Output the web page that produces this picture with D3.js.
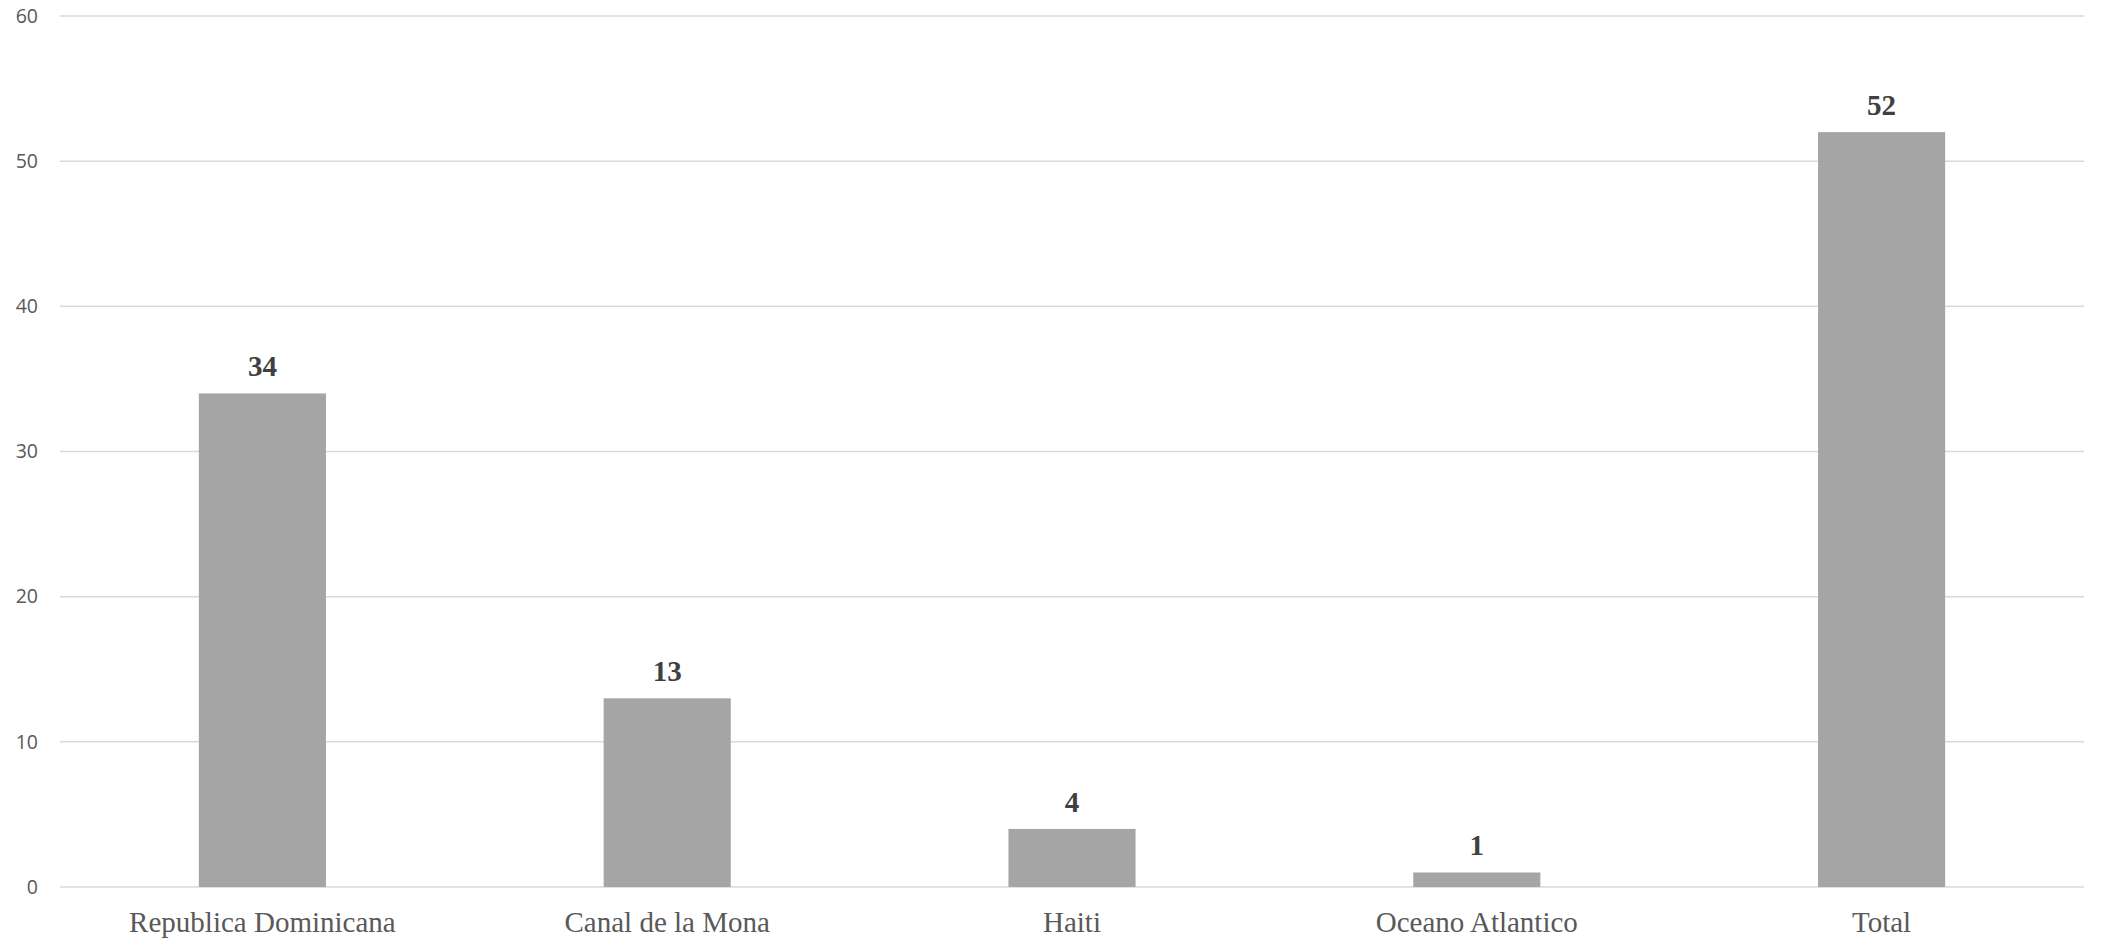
<!DOCTYPE html>
<html><head><meta charset="utf-8">
<script src="https://cdn.jsdelivr.net/npm/d3@7"></script>
<style>html,body{margin:0;padding:0;background:#fff;}</style>
</head><body>
<svg id="chart" width="2107" height="952"></svg>
<script>
const categories = ["Republica Dominicana", "Canal de la Mona", "Haiti", "Oceano Atlantico", "Total"];
const values = [34, 13, 4, 1, 52];
const yTicks = [0, 10, 20, 30, 40, 50, 60];

(function () {
const svg = d3.select("#chart");
const mLeft = 60, mRight = 2084, mTop = 16, mBottom = 887;

const x = d3.scaleBand().domain(categories).range([mLeft, mRight]).paddingInner(0.686).paddingOuter(0.343);
const y = d3.scaleLinear().domain([0, 60]).range([mBottom, mTop]);

// gridlines
svg.append("g").selectAll("line").data(yTicks).join("line")
  .attr("x1", mLeft).attr("x2", mRight)
  .attr("y1", d => y(d)).attr("y2", d => y(d))
  .attr("stroke", "#d9d9d9").attr("stroke-width", 1.5);

// y labels
const yAxis = d3.axisLeft(y).tickValues(yTicks).tickSize(0).tickPadding(0);
const gy = svg.append("g").attr("transform", "translate(38,0)").call(yAxis);
gy.select(".domain").remove();
gy.selectAll("text").attr("font-family", "'Open Sans', sans-serif").attr("font-size", 19.5).attr("fill", "#595959");

// bars
svg.append("g").selectAll("rect").data(values).join("rect")
  .attr("x", (d, i) => x(categories[i]))
  .attr("width", x.bandwidth())
  .attr("y", d => y(d))
  .attr("height", d => y(0) - y(d))
  .attr("fill", "#a5a5a5");

// data labels
svg.append("g").selectAll("text").data(values).join("text")
  .attr("x", (d, i) => x(categories[i]) + x.bandwidth() / 2)
  .attr("y", d => y(d) - 17)
  .attr("text-anchor", "middle")
  .attr("font-family", "'Liberation Serif', 'Times New Roman', serif")
  .attr("font-weight", "bold").attr("font-size", 29).attr("fill", "#404040")
  .text(d => d);

// x labels
const xAxis = d3.axisBottom(x).tickSize(0).tickPadding(0);
const gx = svg.append("g").attr("transform", `translate(0,${mBottom})`).call(xAxis);
gx.select(".domain").remove();
gx.selectAll("text").attr("dy", null).attr("y", 45)
  .attr("font-family", "'Liberation Serif', 'Times New Roman', serif")
  .attr("font-size", 29).attr("fill", "#595959");
})();
</script>
</body></html>
